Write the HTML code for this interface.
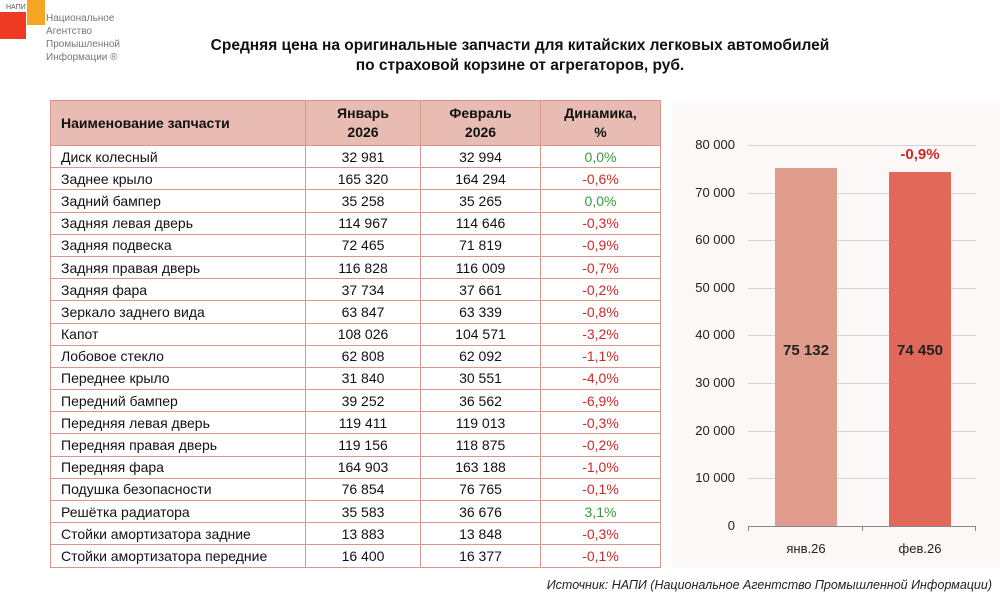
<!DOCTYPE html>
<html><head><meta charset="utf-8"><style>
body{margin:0;width:1000px;height:603px;background:#fff;position:relative;overflow:hidden;font-family:"Liberation Sans","DejaVu Sans",sans-serif;}
.a{position:absolute}
table{position:absolute;left:50px;top:100px;width:610px;table-layout:fixed;border-collapse:collapse;font-size:14px;color:#111;}
tr{height:22.2px}
td{border:1px solid #d9968a;padding:0;line-height:20px;white-space:nowrap;overflow:hidden}
td.n{padding-left:10px;text-align:left}
td.v,td.w{text-align:center}
th{background:#e8bcb3;border:1px solid #d9968a;height:44px;font-size:14px;font-weight:bold;line-height:19px;padding:0}
.g{color:#3a9a3a}.r{color:#d02828}
.y{position:absolute;left:670px;width:65px;text-align:right;font-size:13px;color:#222}
.gl{position:absolute;left:748px;width:228px;height:1px;background:#d4d4d4}
</style></head><body>
<div class="a" style="left:0;top:12px;width:26px;height:27px;background:#ee3a23"></div>
<div class="a" style="left:27px;top:0;width:18px;height:25px;background:#f6a623"></div>
<div class="a" style="left:6px;top:4px;font-size:7px;color:#555">НАПИ</div>
<div class="a" style="left:46px;top:12px;font-size:10px;line-height:13px;color:#777">Национальное<br>Агентство<br>Промышленной<br>Информации ®</div>
<div class="a" style="left:100px;top:36px;width:840px;text-align:center;font-weight:bold;font-size:15.5px;line-height:20px;color:#111">Средняя цена на оригинальные запчасти для китайских легковых автомобилей<br>по страховой корзине от агрегаторов, руб.</div>
<table>
<colgroup><col style="width:255px"><col style="width:115px"><col style="width:120px"><col style="width:120px"></colgroup>
<tr style="height:45px"><th style="text-align:left;padding-left:10px">Наименование запчасти</th><th>Январь<br>2026</th><th>Февраль<br>2026</th><th>Динамика,<br>%</th></tr>
<tr><td class="n">Диск колесный</td><td class="v">32 981</td><td class="w">32 994</td><td class="w g">0,0%</td></tr>
<tr><td class="n">Заднее крыло</td><td class="v">165 320</td><td class="w">164 294</td><td class="w r">-0,6%</td></tr>
<tr><td class="n">Задний бампер</td><td class="v">35 258</td><td class="w">35 265</td><td class="w g">0,0%</td></tr>
<tr><td class="n">Задняя левая дверь</td><td class="v">114 967</td><td class="w">114 646</td><td class="w r">-0,3%</td></tr>
<tr><td class="n">Задняя подвеска</td><td class="v">72 465</td><td class="w">71 819</td><td class="w r">-0,9%</td></tr>
<tr><td class="n">Задняя правая дверь</td><td class="v">116 828</td><td class="w">116 009</td><td class="w r">-0,7%</td></tr>
<tr><td class="n">Задняя фара</td><td class="v">37 734</td><td class="w">37 661</td><td class="w r">-0,2%</td></tr>
<tr><td class="n">Зеркало заднего вида</td><td class="v">63 847</td><td class="w">63 339</td><td class="w r">-0,8%</td></tr>
<tr><td class="n">Капот</td><td class="v">108 026</td><td class="w">104 571</td><td class="w r">-3,2%</td></tr>
<tr><td class="n">Лобовое стекло</td><td class="v">62 808</td><td class="w">62 092</td><td class="w r">-1,1%</td></tr>
<tr><td class="n">Переднее крыло</td><td class="v">31 840</td><td class="w">30 551</td><td class="w r">-4,0%</td></tr>
<tr><td class="n">Передний бампер</td><td class="v">39 252</td><td class="w">36 562</td><td class="w r">-6,9%</td></tr>
<tr><td class="n">Передняя левая дверь</td><td class="v">119 411</td><td class="w">119 013</td><td class="w r">-0,3%</td></tr>
<tr><td class="n">Передняя правая дверь</td><td class="v">119 156</td><td class="w">118 875</td><td class="w r">-0,2%</td></tr>
<tr><td class="n">Передняя фара</td><td class="v">164 903</td><td class="w">163 188</td><td class="w r">-1,0%</td></tr>
<tr><td class="n">Подушка безопасности</td><td class="v">76 854</td><td class="w">76 765</td><td class="w r">-0,1%</td></tr>
<tr><td class="n">Решётка радиатора</td><td class="v">35 583</td><td class="w">36 676</td><td class="w g">3,1%</td></tr>
<tr><td class="n">Стойки амортизатора задние</td><td class="v">13 883</td><td class="w">13 848</td><td class="w r">-0,3%</td></tr>
<tr><td class="n">Стойки амортизатора передние</td><td class="v">16 400</td><td class="w">16 377</td><td class="w r">-0,1%</td></tr>
</table>
<div class="a" style="left:672px;top:103px;width:328px;height:465px;background:#fbf8f7"></div>
<div class="gl" style="top:145px"></div><div class="gl" style="top:193px"></div><div class="gl" style="top:240px"></div><div class="gl" style="top:288px"></div><div class="gl" style="top:335px"></div><div class="gl" style="top:383px"></div><div class="gl" style="top:431px"></div><div class="gl" style="top:478px"></div>
<div class="y" style="top:137px">80 000</div><div class="y" style="top:185px">70 000</div><div class="y" style="top:232px">60 000</div><div class="y" style="top:280px">50 000</div><div class="y" style="top:327px">40 000</div><div class="y" style="top:375px">30 000</div><div class="y" style="top:423px">20 000</div><div class="y" style="top:470px">10 000</div><div class="y" style="top:518px">0</div>
<div class="a" style="left:775px;top:168px;width:62px;height:358px;background:#df9c8c"></div>
<div class="a" style="left:889px;top:172px;width:62px;height:354px;background:#e0695a"></div>
<div class="a" style="left:748px;top:526px;width:228px;height:1px;background:#888"></div>
<div class="a" style="left:748px;top:526px;width:1px;height:5px;background:#888"></div>
<div class="a" style="left:862px;top:526px;width:1px;height:5px;background:#888"></div>
<div class="a" style="left:975px;top:526px;width:1px;height:5px;background:#888"></div>
<div class="a" style="left:766px;top:342px;width:80px;text-align:center;font-weight:bold;font-size:15px;color:#222">75 132</div>
<div class="a" style="left:880px;top:342px;width:80px;text-align:center;font-weight:bold;font-size:15px;color:#222">74 450</div>
<div class="a" style="left:880px;top:146px;width:80px;text-align:center;font-weight:bold;font-size:15px;color:#d02828">-0,9%</div>
<div class="a" style="left:766px;top:541px;width:80px;text-align:center;font-size:13px;color:#222">янв.26</div>
<div class="a" style="left:880px;top:541px;width:80px;text-align:center;font-size:13px;color:#222">фев.26</div>
<div class="a" style="left:450px;top:578px;width:542px;text-align:right;font-style:italic;font-size:12.5px;color:#222">Источник: НАПИ (Национальное Агентство Промышленной Информации)</div>
</body></html>
